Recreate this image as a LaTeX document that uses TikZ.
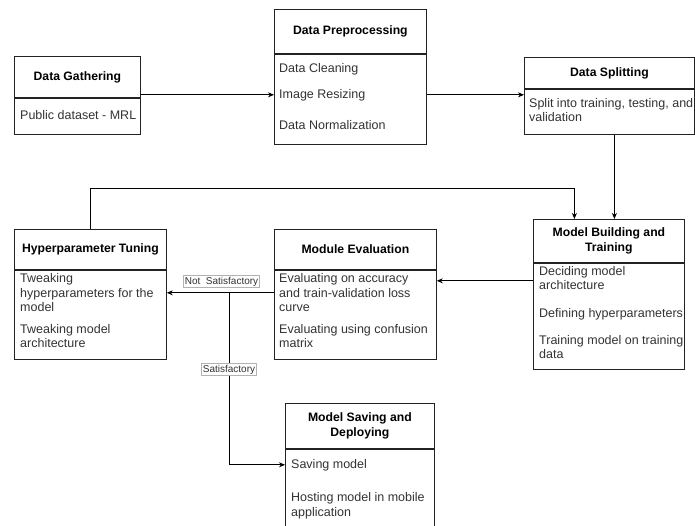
\documentclass[tikz,border=0pt]{standalone}
\usepackage{fontspec}
\setmainfont{Liberation Sans}
\usetikzlibrary{arrows.meta,calc}
\definecolor{bodytext}{HTML}{333333}
\definecolor{boxline}{HTML}{222222}
\begin{document}
\begin{tikzpicture}[x=1pt,y=-1pt,
  box/.style={draw=boxline,line width=0.8pt,inner sep=0pt,anchor=north west,fill=white},
  ttl/.style={box,align=center,font=\bfseries\fontsize{12.2}{14.2}\selectfont},
  txt/.style={anchor=west,inner sep=0pt,yshift=-1pt,text height=9pt,text depth=3pt,text=bodytext,font=\fontsize{12.5}{14.5}\selectfont},
  arr/.style={-{Stealth[length=6pt,width=5pt]},line width=0.8pt,draw=black},
  lbl/.style={fill=white,draw=black!30,line width=0.5pt,inner sep=1.5pt,text=bodytext,font=\fontsize{10}{12}\selectfont}
]
\useasboundingbox (0,0) rectangle (695,525);
\clip (0,0) rectangle (695,525);
\fill[white] (0,0) rectangle (695,525);

% Data Gathering
\node[ttl,minimum width=126pt,minimum height=41pt] (dgT) at (14,56) {Data Gathering};
\node[box,minimum width=126pt,minimum height=36pt] (dgB) at (dgT.south west) {};
\node[txt] (dg1) at (20,115) {Public dataset - MRL};

% Data Preprocessing
\node[ttl,minimum width=152pt,minimum height=44pt] (dpT) at (274,9) {Data Preprocessing};
\node[box,minimum width=152pt,minimum height=90pt] (dpB) at (dpT.south west) {};
\node[txt] (dp1) at (279,68) {Data Cleaning};
\node[txt] (dp2) at (279,94) {Image Resizing};
\node[txt] (dp3) at (279,125) {Data Normalization};

% Data Splitting
\node[ttl,minimum width=170pt,minimum height=31pt] (dsT) at (524,57) {Data Splitting};
\node[box,minimum width=170pt,minimum height=45pt] (dsB) at (dsT.south west) {};
\node[txt] (ds1) at (529,103) {Split into training, testing, and};
\node[txt] (ds2) at (529,117) {validation};

% Hyperparameter Tuning
\node[ttl,minimum width=152pt,minimum height=40pt] (htT) at (14,229) {Hyperparameter Tuning};
\node[box,minimum width=152pt,minimum height=89pt] (htB) at (htT.south west) {};
\node[txt] (ht1) at (20,278) {Tweaking};
\node[txt] (ht2) at (20,293) {hyperparameters for the};
\node[txt] (ht3) at (20,307) {model};
\node[txt] (ht4) at (20,329) {Tweaking model};
\node[txt] (ht5) at (20,343) {architecture};

% Module Evaluation
\node[ttl,minimum width=162pt,minimum height=40pt] (meT) at (274,229) {Module Evaluation};
\node[box,minimum width=162pt,minimum height=89pt] (meB) at (meT.south west) {};
\node[txt] (me1) at (279,278) {Evaluating on accuracy};
\node[txt] (me2) at (279,293) {and train-validation loss};
\node[txt] (me3) at (279,307) {curve};
\node[txt] (me4) at (279,329) {Evaluating using confusion};
\node[txt] (me5) at (279,343) {matrix};

% Model Building and Training
\node[ttl,minimum width=151pt,minimum height=43pt] (mbtT) at (533,219) {Model Building and\\Training};
\node[box,minimum width=151pt,minimum height=106pt] (mbtB) at (mbtT.south west) {};
\node[txt] (mb1) at (539,271) {Deciding model};
\node[txt] (mb2) at (539,285) {architecture};
\node[txt] (mb3) at (539,313) {Defining hyperparameters};
\node[txt] (mb4) at (539,340) {Training model on training};
\node[txt] (mb5) at (539,354) {data};

% Model Saving and Deploying
\node[ttl,minimum width=149pt,minimum height=45pt] (msdT) at (285,403) {Model Saving and\\Deploying};
\node[box,minimum width=149pt,minimum height=85pt] (msdB) at (msdT.south west) {};
\node[txt] (ms1) at (291,464) {Saving model};
\node[txt] (ms2) at (291,497) {Hosting model in mobile};
\node[txt] (ms3) at (291,512) {application};

% Connectors
\coordinate (a1) at ([yshift=3pt]dgB.north east);
\draw[arr] (a1) -- (a1 -| dpB.west);

\coordinate (a2) at ([yshift=-6pt]dsB.north west);
\draw[arr] (a2 -| dpB.east) -- (a2);

\coordinate (a3) at ([xshift=5pt]dsB.south);
\draw[arr] (a3) -- (a3 |- mbtT.north);

\coordinate (a4) at ([xshift=-34.5pt]mbtT.north);
\draw[arr] (htT.north) -- ++(0,-41) -| (a4);

\coordinate (a5) at ([yshift=-18pt]mbtB.north west);
\draw[arr] (a5) -- (a5 -| meB.east);

\coordinate (a6) at ([yshift=-23pt]meB.north west);
\draw[arr] (a6) -- (a6 -| htB.east);
\node[lbl] (ns) at (221.5,281.5) {Not\ \ Satisfactory};

\coordinate (br) at ([xshift=-45pt]a6);
\coordinate (a8) at ([yshift=-16pt]msdB.north west);
\draw[arr] (br) |- (a8);
\node[lbl] (sat) at (br |- 0,369.5) {Satisfactory};
\end{tikzpicture}
\end{document}
